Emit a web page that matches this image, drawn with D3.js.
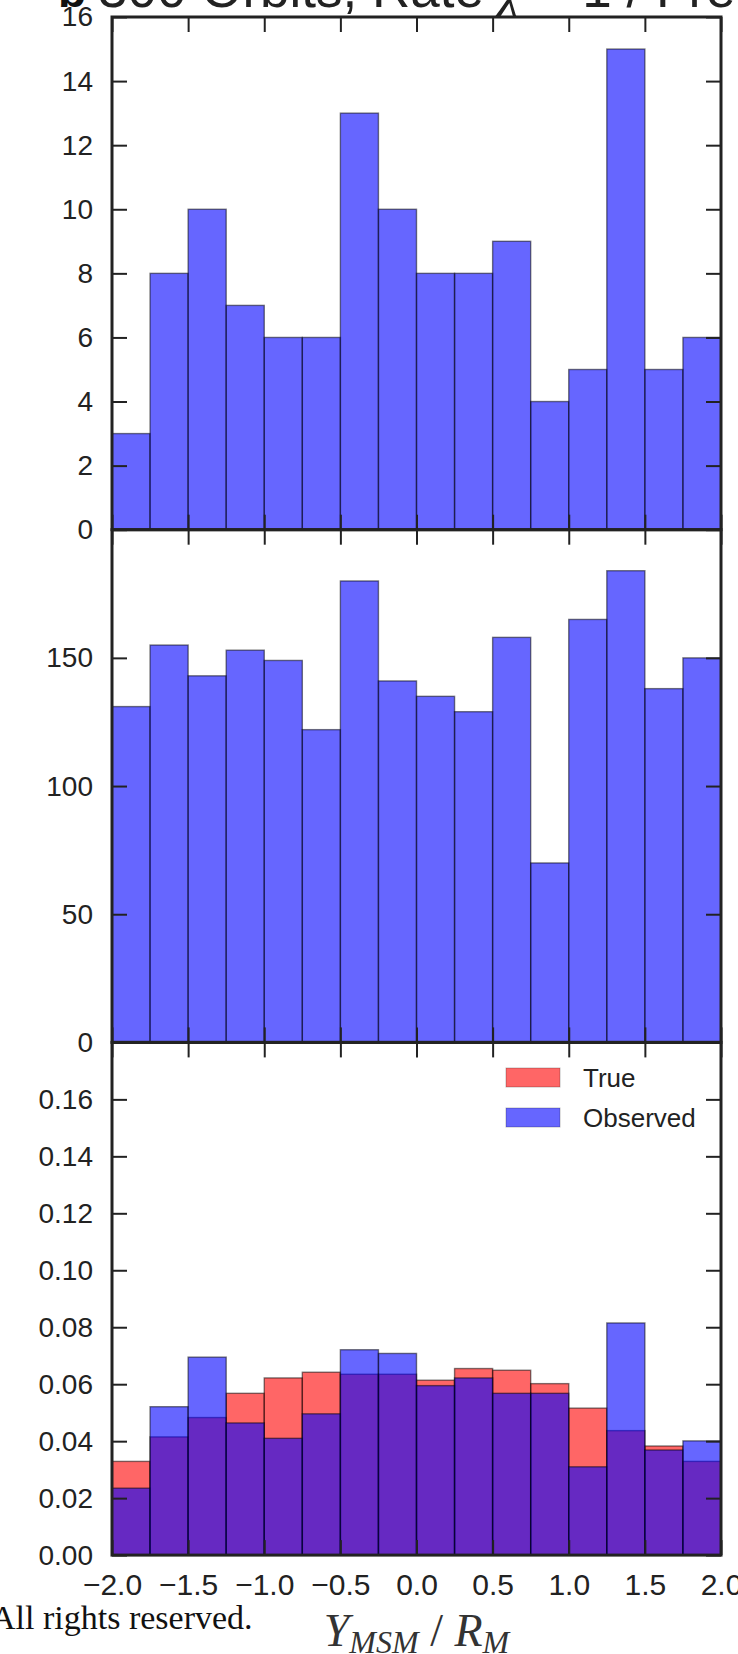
<!DOCTYPE html>
<html>
<head>
<meta charset="utf-8">
<script src="https://cdn.jsdelivr.net/npm/d3@7/dist/d3.min.js"></script>
<style>
  html, body { margin: 0; padding: 0; background: #fff; }
  svg { display: block; }
</style>
</head>
<body>
<svg id="chart" width="738" height="1654"></svg>
<script>
// Histogram bins: left edge of each 0.25-wide bin in Y_MSM / R_M
const binStarts = [-2.0, -1.75, -1.5, -1.25, -1.0, -0.75, -0.5, -0.25,
                   0.0, 0.25, 0.5, 0.75, 1.0, 1.25, 1.5, 1.75];
const binWidth = 0.25;

// Panel 1: orbit counts per bin
const orbitCounts = [3, 8, 10, 7, 6, 6, 13, 10, 8, 8, 9, 4, 5, 15, 5, 6];

// Panel 2: sample counts per bin
const sampleCounts = [131, 155, 143, 153, 149, 122, 180, 141, 135, 129, 158, 70, 165, 184, 138, 150];

// Panel 3: normalised distributions
const trueFrac = [0.0329, 0.0415, 0.0483, 0.0568, 0.0622, 0.0642, 0.0635, 0.0635,
                  0.0614, 0.0655, 0.0649, 0.0602, 0.0516, 0.0437, 0.0383, 0.0329];
const observedFrac = [0.0235, 0.0521, 0.0695, 0.0464, 0.0410, 0.0496, 0.0721, 0.0708,
                      0.0595, 0.0622, 0.0568, 0.0568, 0.0310, 0.0815, 0.0369, 0.0401];

// Axis ticks
const xTicks = [-2.0, -1.5, -1.0, -0.5, 0.0, 0.5, 1.0, 1.5, 2.0];
const yTicks1 = [0, 2, 4, 6, 8, 10, 12, 14, 16];
const yTicks2 = [0, 50, 100, 150];
const yTicks3 = [0.00, 0.02, 0.04, 0.06, 0.08, 0.10, 0.12, 0.14, 0.16];
const yMax = [16, 200, 0.18];
const legendLabels = ["True", "Observed"];

const svg = d3.select("#chart");
const left = 112, right = 721;
const panelTop = 17, panelH = 512.7;
const tickLen = 15;
const ink = "#222";

const x = d3.scaleLinear().domain([-2, 2]).range([left, right]);

function panel(i) {
  const top = panelTop + i * panelH;
  const y = d3.scaleLinear().domain([0, yMax[i]]).range([top + panelH, top]);
  return { top, bottom: top + panelH, y };
}

function drawBars(g, y, values, color) {
  g.append("g").selectAll("rect")
    .data(values)
    .join("rect")
    .attr("x", (d, k) => x(binStarts[k]))
    .attr("width", (d, k) => x(binStarts[k] + binWidth) - x(binStarts[k]))
    .attr("y", d => y(d))
    .attr("height", d => y(0) - y(d))
    .attr("fill", color)
    .attr("fill-opacity", 0.6)
    .attr("stroke", "#000")
    .attr("stroke-opacity", 0.5)
    .attr("stroke-width", 1.4);
}

function drawAxes(g, p, yTicks, yFormat, showX) {
  const styleAxis = sel => {
    sel.select(".domain").remove();
    sel.selectAll("line").attr("stroke", ink).attr("stroke-width", 2);
    sel.selectAll("text").attr("fill", ink).attr("font-family", "Liberation Sans, Arial, sans-serif");
  };
  g.append("g").attr("transform", `translate(${left},0)`)
    .call(d3.axisLeft(p.y).tickValues(yTicks).tickFormat(yFormat)
      .tickSizeInner(-tickLen).tickSizeOuter(0).tickPadding(19))
    .call(styleAxis)
    .call(s => s.selectAll("text").attr("font-size", 28));
  g.append("g").attr("transform", `translate(${right},0)`)
    .call(d3.axisRight(p.y).tickValues(yTicks).tickFormat("")
      .tickSizeInner(-tickLen).tickSizeOuter(0))
    .call(styleAxis);
  g.append("g").attr("transform", `translate(0,${p.top})`)
    .call(d3.axisTop(x).tickValues(xTicks).tickFormat("")
      .tickSizeInner(-tickLen).tickSizeOuter(0))
    .call(styleAxis);
  g.append("g").attr("transform", `translate(0,${p.bottom})`)
    .call(d3.axisBottom(x).tickValues(xTicks)
      .tickFormat(showX ? (d => d3.format(".1f")(d).replace("-", "\u2212")) : "")
      .tickSizeInner(-tickLen).tickSizeOuter(0).tickPadding(19))
    .call(styleAxis)
    .call(s => s.selectAll("text").attr("font-size", 30));
  // Frame
  g.append("rect")
    .attr("x", left).attr("y", p.top)
    .attr("width", right - left).attr("height", panelH)
    .attr("fill", "none").attr("stroke", ink).attr("stroke-width", 3);
}

// Panel 1: orbit counts
const p1 = panel(0);
const g1 = svg.append("g");
drawBars(g1, p1.y, orbitCounts, "blue");
drawAxes(g1, p1, yTicks1, d3.format("d"), false);

// Panel 2: sample counts
const p2 = panel(1);
const g2 = svg.append("g");
drawBars(g2, p2.y, sampleCounts, "blue");
drawAxes(g2, p2, yTicks2, d3.format("d"), false);

// Panel 3: true vs observed distributions
const p3 = panel(2);
const g3 = svg.append("g");
drawBars(g3, p3.y, trueFrac, "red");
drawBars(g3, p3.y, observedFrac, "blue");
drawAxes(g3, p3, yTicks3, d3.format(".2f"), true);

// Legend
const legend = svg.append("g");
const legendColors = ["red", "blue"];
legendLabels.forEach((lab, k) => {
  const ly = 1068 + k * 40;
  legend.append("rect")
    .attr("x", 506).attr("y", ly).attr("width", 54).attr("height", 19)
    .attr("fill", legendColors[k]).attr("fill-opacity", 0.6)
    .attr("stroke", "#000").attr("stroke-opacity", 0.25).attr("stroke-width", 1);
  legend.append("text")
    .attr("x", 583).attr("y", ly + 19)
    .attr("font-family", "Liberation Sans, Arial, sans-serif")
    .attr("font-size", 26).attr("fill", ink)
    .text(lab);
});

// X axis label
const xl = svg.append("text")
  .attr("x", (left + right) / 2).attr("y", 1646)
  .attr("text-anchor", "middle")
  .attr("font-family", "Liberation Serif, DejaVu Serif, serif")
  .attr("font-style", "italic")
  .attr("font-size", 46)
  .attr("fill", "#333");
xl.append("tspan").text("Y");
xl.append("tspan").attr("font-size", 32).attr("dy", 7).text("MSM");
xl.append("tspan").attr("font-style", "normal").attr("dy", -7).text(" / ");
xl.append("tspan").text("R");
xl.append("tspan").attr("font-size", 32).attr("dy", 7).text("M");

// Title (runs off the top edge)
svg.append("text")
  .attr("x", 58).attr("y", 7)
  .attr("font-family", "Liberation Sans, Arial, sans-serif")
  .attr("font-weight", "bold").attr("font-size", 46).attr("fill", "#111")
  .text("b");
const title = svg.append("text")
  .attr("x", 98).attr("y", 7)
  .attr("font-family", "Liberation Sans, Arial, sans-serif")
  .attr("font-size", 53).attr("fill", "#222");
title.append("tspan").text("300 Orbits, Rate ");
title.append("tspan").attr("font-family", "Liberation Serif, serif").attr("font-style", "italic").text("\u03C7");
title.append("tspan").text(" = 1 / Free");

// Copyright line
svg.append("text")
  .attr("x", -9).attr("y", 1629)
  .attr("font-family", "Liberation Serif, Times New Roman, serif")
  .attr("font-size", 34).attr("fill", "#111")
  .text("All rights reserved.");
</script>
</body>
</html>
